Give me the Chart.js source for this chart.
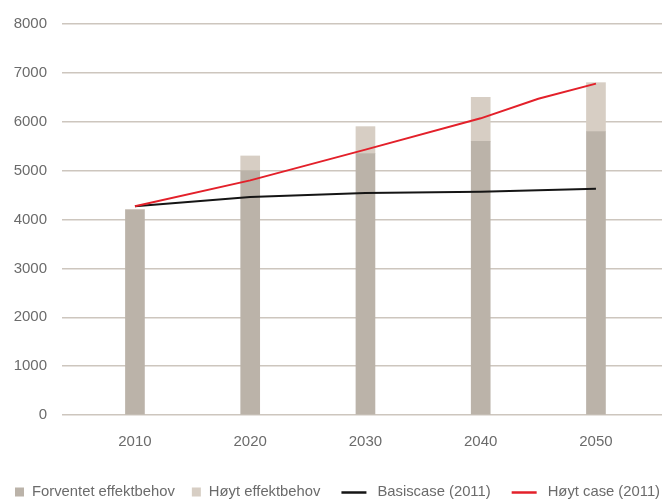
<!DOCTYPE html>
<html><head><meta charset="utf-8">
<script src="https://cdn.jsdelivr.net/npm/chart.js@4.4.1/dist/chart.umd.min.js"></script>
<style>html,body{margin:0;padding:0;background:#fff}canvas{display:block}</style>
</head><body>
<canvas id="c" width="665" height="502"></canvas>
<script>
// ---- data ----
const years = [2010, 2020, 2030, 2040, 2050];
const tickLabels = ['2010', '2020', '2030', '2040', '2050'];
const forventet = [4200, 5000, 5350, 5600, 5800];      // Forventet effektbehov
const hoytTillegg = [0, 300, 550, 900, 1000];          // Høyt effektbehov (added on top)
const basisYears = [2010, 2020, 2030, 2040, 2050];
const basiscase = [4270, 4460, 4540, 4570, 4630];      // Basiscase (2011)
const hoytYears = [2010, 2020, 2030, 2040, 2045, 2050];
const hoytCase = [4270, 4800, 5430, 6070, 6470, 6780]; // Høyt case (2011)
const yTicks = [0, 1000, 2000, 3000, 4000, 5000, 6000, 7000, 8000];
const seriesNames = ['Forventet effektbehov', 'Høyt effektbehov', 'Basiscase (2011)', 'Høyt case (2011)'];

const FONT = '"Liberation Sans", Arial, sans-serif';
const TXT = '#6b6b6b';
const pts = (xs, ys) => xs.map((x, i) => ({x: x, y: ys[i]}));

const legendPlugin = {
  id: 'customLegend',
  afterDraw(chart) {
    const ctx = chart.ctx;
    const gaps = [17, 21, 21, 0];
    ctx.save();
    ctx.font = '14.8px ' + FONT;
    ctx.textBaseline = 'middle';
    const y = 492;
    let x = 15;
    chart.data.datasets.forEach((ds, i) => {
      if (ds.type === 'bar') {
        ctx.fillStyle = ds.backgroundColor;
        ctx.fillRect(x, y - 4.5, 9, 9);
        x += 9 + 8;
      } else {
        ctx.strokeStyle = ds.borderColor;
        ctx.lineWidth = 2.5;
        ctx.beginPath();
        ctx.moveTo(x, y + 0.5);
        ctx.lineTo(x + 25, y + 0.5);
        ctx.stroke();
        x += 25 + 11;
      }
      ctx.fillStyle = TXT;
      ctx.fillText(ds.label, x, y);
      x += ctx.measureText(ds.label).width + gaps[i];
    });
    ctx.restore();
  }
};

new Chart(document.getElementById('c'), {
  data: {
    datasets: [
      {type: 'bar', label: seriesNames[0], data: pts(years, forventet), backgroundColor: '#bbb3a9', stack: 'bars', barThickness: 19, order: 2},
      {type: 'bar', label: seriesNames[1], data: pts(years, hoytTillegg), backgroundColor: '#d7cec4', stack: 'bars', barThickness: 19, order: 2},
      {type: 'line', label: seriesNames[2], data: pts(basisYears, basiscase), borderColor: '#151515', borderWidth: 2, pointRadius: 0, tension: 0, stack: 'l1', order: 1},
      {type: 'line', label: seriesNames[3], data: pts(hoytYears, hoytCase), borderColor: '#e3202a', borderWidth: 2, pointRadius: 0, tension: 0, stack: 'l2', order: 0}
    ]
  },
  options: {
    responsive: false,
    animation: false,
    layout: {padding: {top: 22, right: 3, bottom: 0, left: 0}},
    plugins: {legend: {display: false}, tooltip: {enabled: false}},
    scales: {
      x: {
        type: 'linear',
        offset: false,
        min: 2003.67, max: 2055.73,
        grid: {display: false, drawTicks: false, offset: false},
        border: {display: false},
        afterBuildTicks: s => { s.ticks = years.map(v => ({value: v})); },
        afterFit: s => { s.height = 87; },
        ticks: {
          padding: 18,
          color: TXT,
          font: {family: FONT, size: 15},
          callback: v => tickLabels[years.indexOf(v)]
        }
      },
      y: {
        type: 'linear',
        stacked: true,
        min: 0, max: 8000,
        grid: {color: '#cdc6be', lineWidth: 1.5, drawTicks: false},
        border: {display: false},
        afterBuildTicks: s => { s.ticks = yTicks.map(v => ({value: v})); },
        afterFit: s => { s.width = 62; },
        ticks: {
          padding: 15,
          color: TXT,
          font: {family: FONT, size: 15},
          callback: v => String(v)
        }
      }
    }
  },
  plugins: [legendPlugin]
});
</script>
</body></html>
